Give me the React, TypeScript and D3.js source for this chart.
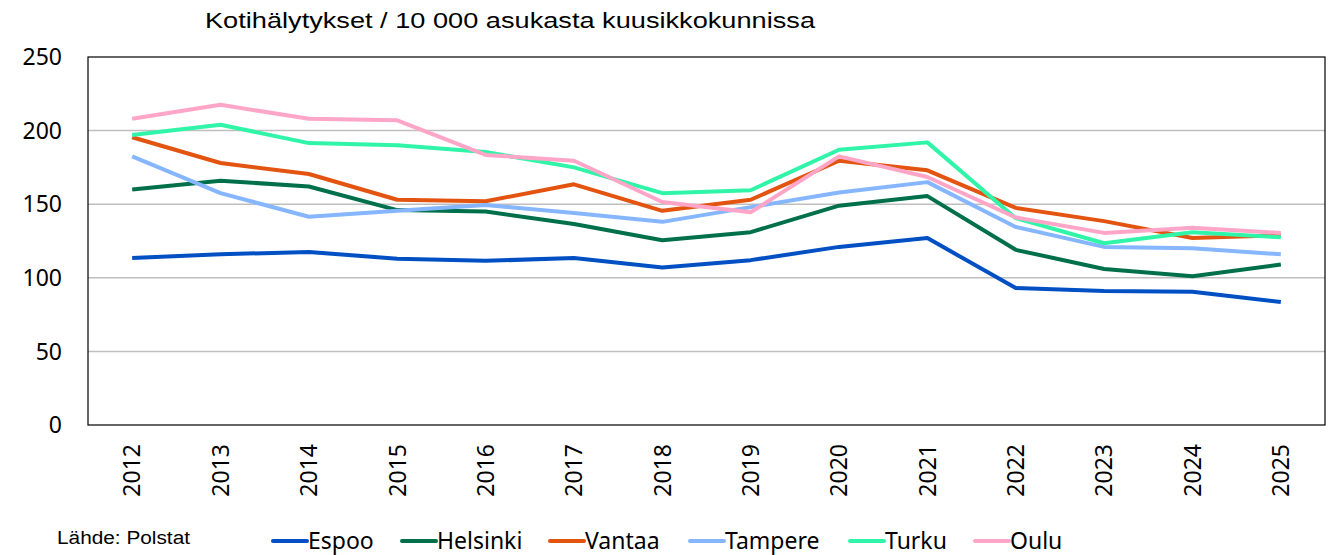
import React, { useEffect, useRef } from 'react'
import * as d3 from 'd3'

const years = ['2012', '2013', '2014', '2015', '2016', '2017', '2018', '2019', '2020', '2021', '2022', '2023', '2024', '2025']
const espoo = [113.5, 116, 117.5, 113, 111.5, 113.5, 107, 112, 121, 127, 93, 91, 90.5, 83.5]
const helsinki = [160, 166, 162, 146, 145, 136.5, 125.5, 131, 149, 155.5, 119, 106, 101, 109]
const vantaa = [195.5, 178, 170.5, 153, 152, 163.5, 145.5, 153, 179.5, 173, 147.5, 138.5, 127, 129]
const tampere = [182.5, 157.5, 141.5, 145.5, 149.5, 144, 138, 148, 158, 165, 134.5, 121, 120, 116]
const turku = [197, 204, 191.5, 190, 185.5, 175, 157.5, 159.5, 187, 192, 140.5, 123.5, 131, 127.5]
const oulu = [208, 217.5, 208, 207, 183.5, 179.5, 151.5, 144.5, 182.5, 168.5, 141, 130.5, 134, 130.5]
const yTicks = [0, 50, 100, 150, 200, 250]

const series = [
    { name: 'Espoo', values: espoo, color: '#0050C4' },
    { name: 'Helsinki', values: helsinki, color: '#00704A' },
    { name: 'Vantaa', values: vantaa, color: '#E35410' },
    { name: 'Tampere', values: tampere, color: '#85B6FF' },
    { name: 'Turku', values: turku, color: '#30F5A8' },
    { name: 'Oulu', values: oulu, color: '#FFA6C8' },
]

const title = 'Kotihälytykset / 10 000 asukasta kuusikkokunnissa'
const source = 'Lähde: Polstat'

export default function App() {
    const ref = useRef<SVGSVGElement>(null)

    useEffect(() => {
        const W = 1335, H = 555
        const margin = { top: 57, right: 10, bottom: 130, left: 88 }
        const svg = d3.select(ref.current)
        svg.selectAll('*').remove()

        const x = d3.scaleBand().domain(years).range([margin.left, W - margin.right])
        const y = d3.scaleLinear().domain([0, 250]).range([H - margin.bottom, margin.top])
        const cx = (d: string) => (x(d) as number) + x.bandwidth() / 2

        svg.append('rect').attr('width', W).attr('height', H).attr('fill', '#fff')

        // grid
        svg.append('g')
            .selectAll('line')
            .data(yTicks.slice(1, -1))
            .join('line')
            .attr('x1', margin.left).attr('x2', W - margin.right)
            .attr('y1', d => y(d)).attr('y2', d => y(d))
            .attr('stroke', '#BFBFBF').attr('stroke-width', 1.5)

        // frame
        svg.append('rect')
            .attr('x', margin.left).attr('y', margin.top)
            .attr('width', W - margin.left - margin.right)
            .attr('height', H - margin.top - margin.bottom)
            .attr('fill', 'none').attr('stroke', '#000').attr('stroke-width', 1.2)

        // y labels
        svg.append('g')
            .selectAll('text')
            .data(yTicks)
            .join('text')
            .attr('x', 62).attr('y', d => y(d))
            .attr('dy', '0.36em')
            .attr('text-anchor', 'end')
            .attr('font-family', 'Noto Sans')
            .attr('font-size', 23)
            .text(d => d)

        // x labels
        svg.append('g')
            .selectAll('text')
            .data(years)
            .join('text')
            .attr('transform', d => `translate(${cx(d)},${H - margin.bottom + 19}) rotate(-90)`)
            .attr('dy', '0.36em')
            .attr('text-anchor', 'end')
            .attr('font-family', 'Noto Sans')
            .attr('font-size', 23)
            .text(d => d)

        // lines
        const line = d3.line<number>()
            .x((_, i) => cx(years[i]))
            .y(d => y(d))
        svg.append('g')
            .selectAll('path')
            .data(series)
            .join('path')
            .attr('d', s => line(s.values))
            .attr('fill', 'none')
            .attr('stroke', s => s.color)
            .attr('stroke-width', 4)
            .attr('stroke-linejoin', 'round')

        // title
        svg.append('text')
            .attr('x', 205).attr('y', 28)
            .attr('font-family', 'Liberation Sans, Arial')
            .attr('font-size', 22)
            .attr('textLength', 610)
            .attr('lengthAdjust', 'spacingAndGlyphs')
            .text(title)

        // source
        svg.append('text')
            .attr('x', 57).attr('y', 544)
            .attr('font-family', 'Liberation Sans, Arial')
            .attr('font-size', 18)
            .attr('textLength', 133)
            .attr('lengthAdjust', 'spacingAndGlyphs')
            .text(source)

        // legend
        const legendX = [273, 402, 550, 690, 850, 975]
        const lg = svg.append('g')
            .selectAll('g')
            .data(series)
            .join('g')
            .attr('transform', (_, i) => `translate(${legendX[i]},541)`)
        lg.append('line')
            .attr('x1', 0).attr('x2', 34)
            .attr('stroke', s => s.color)
            .attr('stroke-width', 4)
            .attr('stroke-linecap', 'round')
        lg.append('text')
            .attr('x', 35).attr('dy', '0.36em')
            .attr('font-family', 'Noto Sans')
            .attr('font-size', 23)
            .text(s => s.name)
    }, [])

    return <svg ref={ref} width={1335} height={555} style={{ position: 'absolute', left: 0, top: 0 }} />
}
